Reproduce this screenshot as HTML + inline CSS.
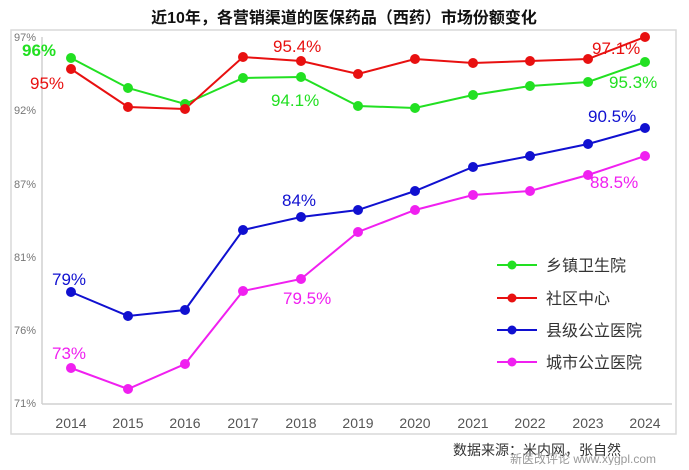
<!DOCTYPE html>
<html><head><meta charset="utf-8"><style>
body{margin:0;background:#fff;}
svg text{font-family:"Liberation Sans","Noto Sans CJK SC",sans-serif;}
</style></head><body>
<svg width="689" height="465" xmlns="http://www.w3.org/2000/svg">
<rect width="689" height="465" fill="#fff"/>
<rect x="11" y="30" width="665" height="404" fill="none" stroke="#d9d9d9" stroke-width="1.5"/>
<text x="344" y="23" text-anchor="middle" font-size="16" font-weight="bold" fill="#111">近10年，各营销渠道的医保药品（西药）市场份额变化</text>
<line x1="42" y1="37" x2="42" y2="404" stroke="#d0d0d0" stroke-width="1.5"/>
<line x1="42" y1="404" x2="672" y2="404" stroke="#d0d0d0" stroke-width="1.5"/>
<g font-size="11" fill="#777" text-anchor="end">
<text x="36" y="41">97%</text><text x="36" y="114">92%</text><text x="36" y="188">87%</text>
<text x="36" y="261">81%</text><text x="36" y="334">76%</text><text x="36" y="407">71%</text>
</g>
<g font-size="14" fill="#555" text-anchor="middle">
<text x="71" y="428">2014</text><text x="128" y="428">2015</text><text x="185" y="428">2016</text><text x="243" y="428">2017</text><text x="301" y="428">2018</text><text x="358" y="428">2019</text><text x="415" y="428">2020</text><text x="473" y="428">2021</text><text x="530" y="428">2022</text><text x="588" y="428">2023</text><text x="645" y="428">2024</text>
</g>
<g stroke-width="2" fill="none">
<polyline stroke="#22e022" points="71,58 128,88 185,104 243,78 301,77 358,106 415,108 473,95 530,86 588,82 645,62"/>
<polyline stroke="#e81010" points="71,69 128,107 185,109 243,57 301,61 358,74 415,59 473,63 530,61 588,59 645,37"/>
<polyline stroke="#1010d0" points="71,292 128,316 185,310 243,230 301,217 358,210 415,191 473,167 530,156 588,144 645,128"/>
<polyline stroke="#f020f0" points="71,368 128,389 185,364 243,291 301,279 358,232 415,210 473,195 530,191 588,175 645,156"/>
</g>
<g fill="#22e022"><circle cx="71" cy="58" r="5"/><circle cx="128" cy="88" r="5"/><circle cx="185" cy="104" r="5"/><circle cx="243" cy="78" r="5"/><circle cx="301" cy="77" r="5"/><circle cx="358" cy="106" r="5"/><circle cx="415" cy="108" r="5"/><circle cx="473" cy="95" r="5"/><circle cx="530" cy="86" r="5"/><circle cx="588" cy="82" r="5"/><circle cx="645" cy="62" r="5"/></g>
<g fill="#e81010"><circle cx="71" cy="69" r="5"/><circle cx="128" cy="107" r="5"/><circle cx="185" cy="109" r="5"/><circle cx="243" cy="57" r="5"/><circle cx="301" cy="61" r="5"/><circle cx="358" cy="74" r="5"/><circle cx="415" cy="59" r="5"/><circle cx="473" cy="63" r="5"/><circle cx="530" cy="61" r="5"/><circle cx="588" cy="59" r="5"/><circle cx="645" cy="37" r="5"/></g>
<g fill="#1010d0"><circle cx="71" cy="292" r="5"/><circle cx="128" cy="316" r="5"/><circle cx="185" cy="310" r="5"/><circle cx="243" cy="230" r="5"/><circle cx="301" cy="217" r="5"/><circle cx="358" cy="210" r="5"/><circle cx="415" cy="191" r="5"/><circle cx="473" cy="167" r="5"/><circle cx="530" cy="156" r="5"/><circle cx="588" cy="144" r="5"/><circle cx="645" cy="128" r="5"/></g>
<g fill="#f020f0"><circle cx="71" cy="368" r="5"/><circle cx="128" cy="389" r="5"/><circle cx="185" cy="364" r="5"/><circle cx="243" cy="291" r="5"/><circle cx="301" cy="279" r="5"/><circle cx="358" cy="232" r="5"/><circle cx="415" cy="210" r="5"/><circle cx="473" cy="195" r="5"/><circle cx="530" cy="191" r="5"/><circle cx="588" cy="175" r="5"/><circle cx="645" cy="156" r="5"/></g>
<g font-size="17">
<text x="22" y="56" fill="#22e022" font-weight="bold">96%</text>
<text x="30" y="89" fill="#e81010">95%</text>
<text x="273" y="52" fill="#e81010">95.4%</text>
<text x="271" y="106" fill="#22e022">94.1%</text>
<text x="592" y="54" fill="#e81010">97.1%</text>
<text x="609" y="88" fill="#22e022">95.3%</text>
<text x="588" y="122" fill="#1010d0">90.5%</text>
<text x="590" y="188" fill="#f020f0">88.5%</text>
<text x="282" y="206" fill="#1010d0">84%</text>
<text x="283" y="304" fill="#f020f0">79.5%</text>
<text x="52" y="285" fill="#1010d0">79%</text>
<text x="52" y="359" fill="#f020f0">73%</text>
</g>
<g stroke-width="2">
<line x1="497" y1="265" x2="537" y2="265" stroke="#22e022"/><circle cx="512" cy="265" r="4.5" fill="#22e022"/>
<line x1="497" y1="298" x2="537" y2="298" stroke="#e81010"/><circle cx="512" cy="298" r="4.5" fill="#e81010"/>
<line x1="497" y1="330" x2="537" y2="330" stroke="#1010d0"/><circle cx="512" cy="330" r="4.5" fill="#1010d0"/>
<line x1="497" y1="362" x2="537" y2="362" stroke="#f020f0"/><circle cx="512" cy="362" r="4.5" fill="#f020f0"/>
</g>
<g font-size="16" fill="#333">
<text x="546" y="271">乡镇卫生院</text><text x="546" y="304">社区中心</text><text x="546" y="336">县级公立医院</text><text x="546" y="368">城市公立医院</text>
</g>
<text x="453" y="455" font-size="14" fill="#333" font-family="Liberation Serif,Noto Serif CJK SC,serif">数据来源：米内网，张自然</text>
<text x="510" y="463" font-size="12" fill="#999">新医改评论 www.xygpl.com</text>
</svg>
</body></html>
